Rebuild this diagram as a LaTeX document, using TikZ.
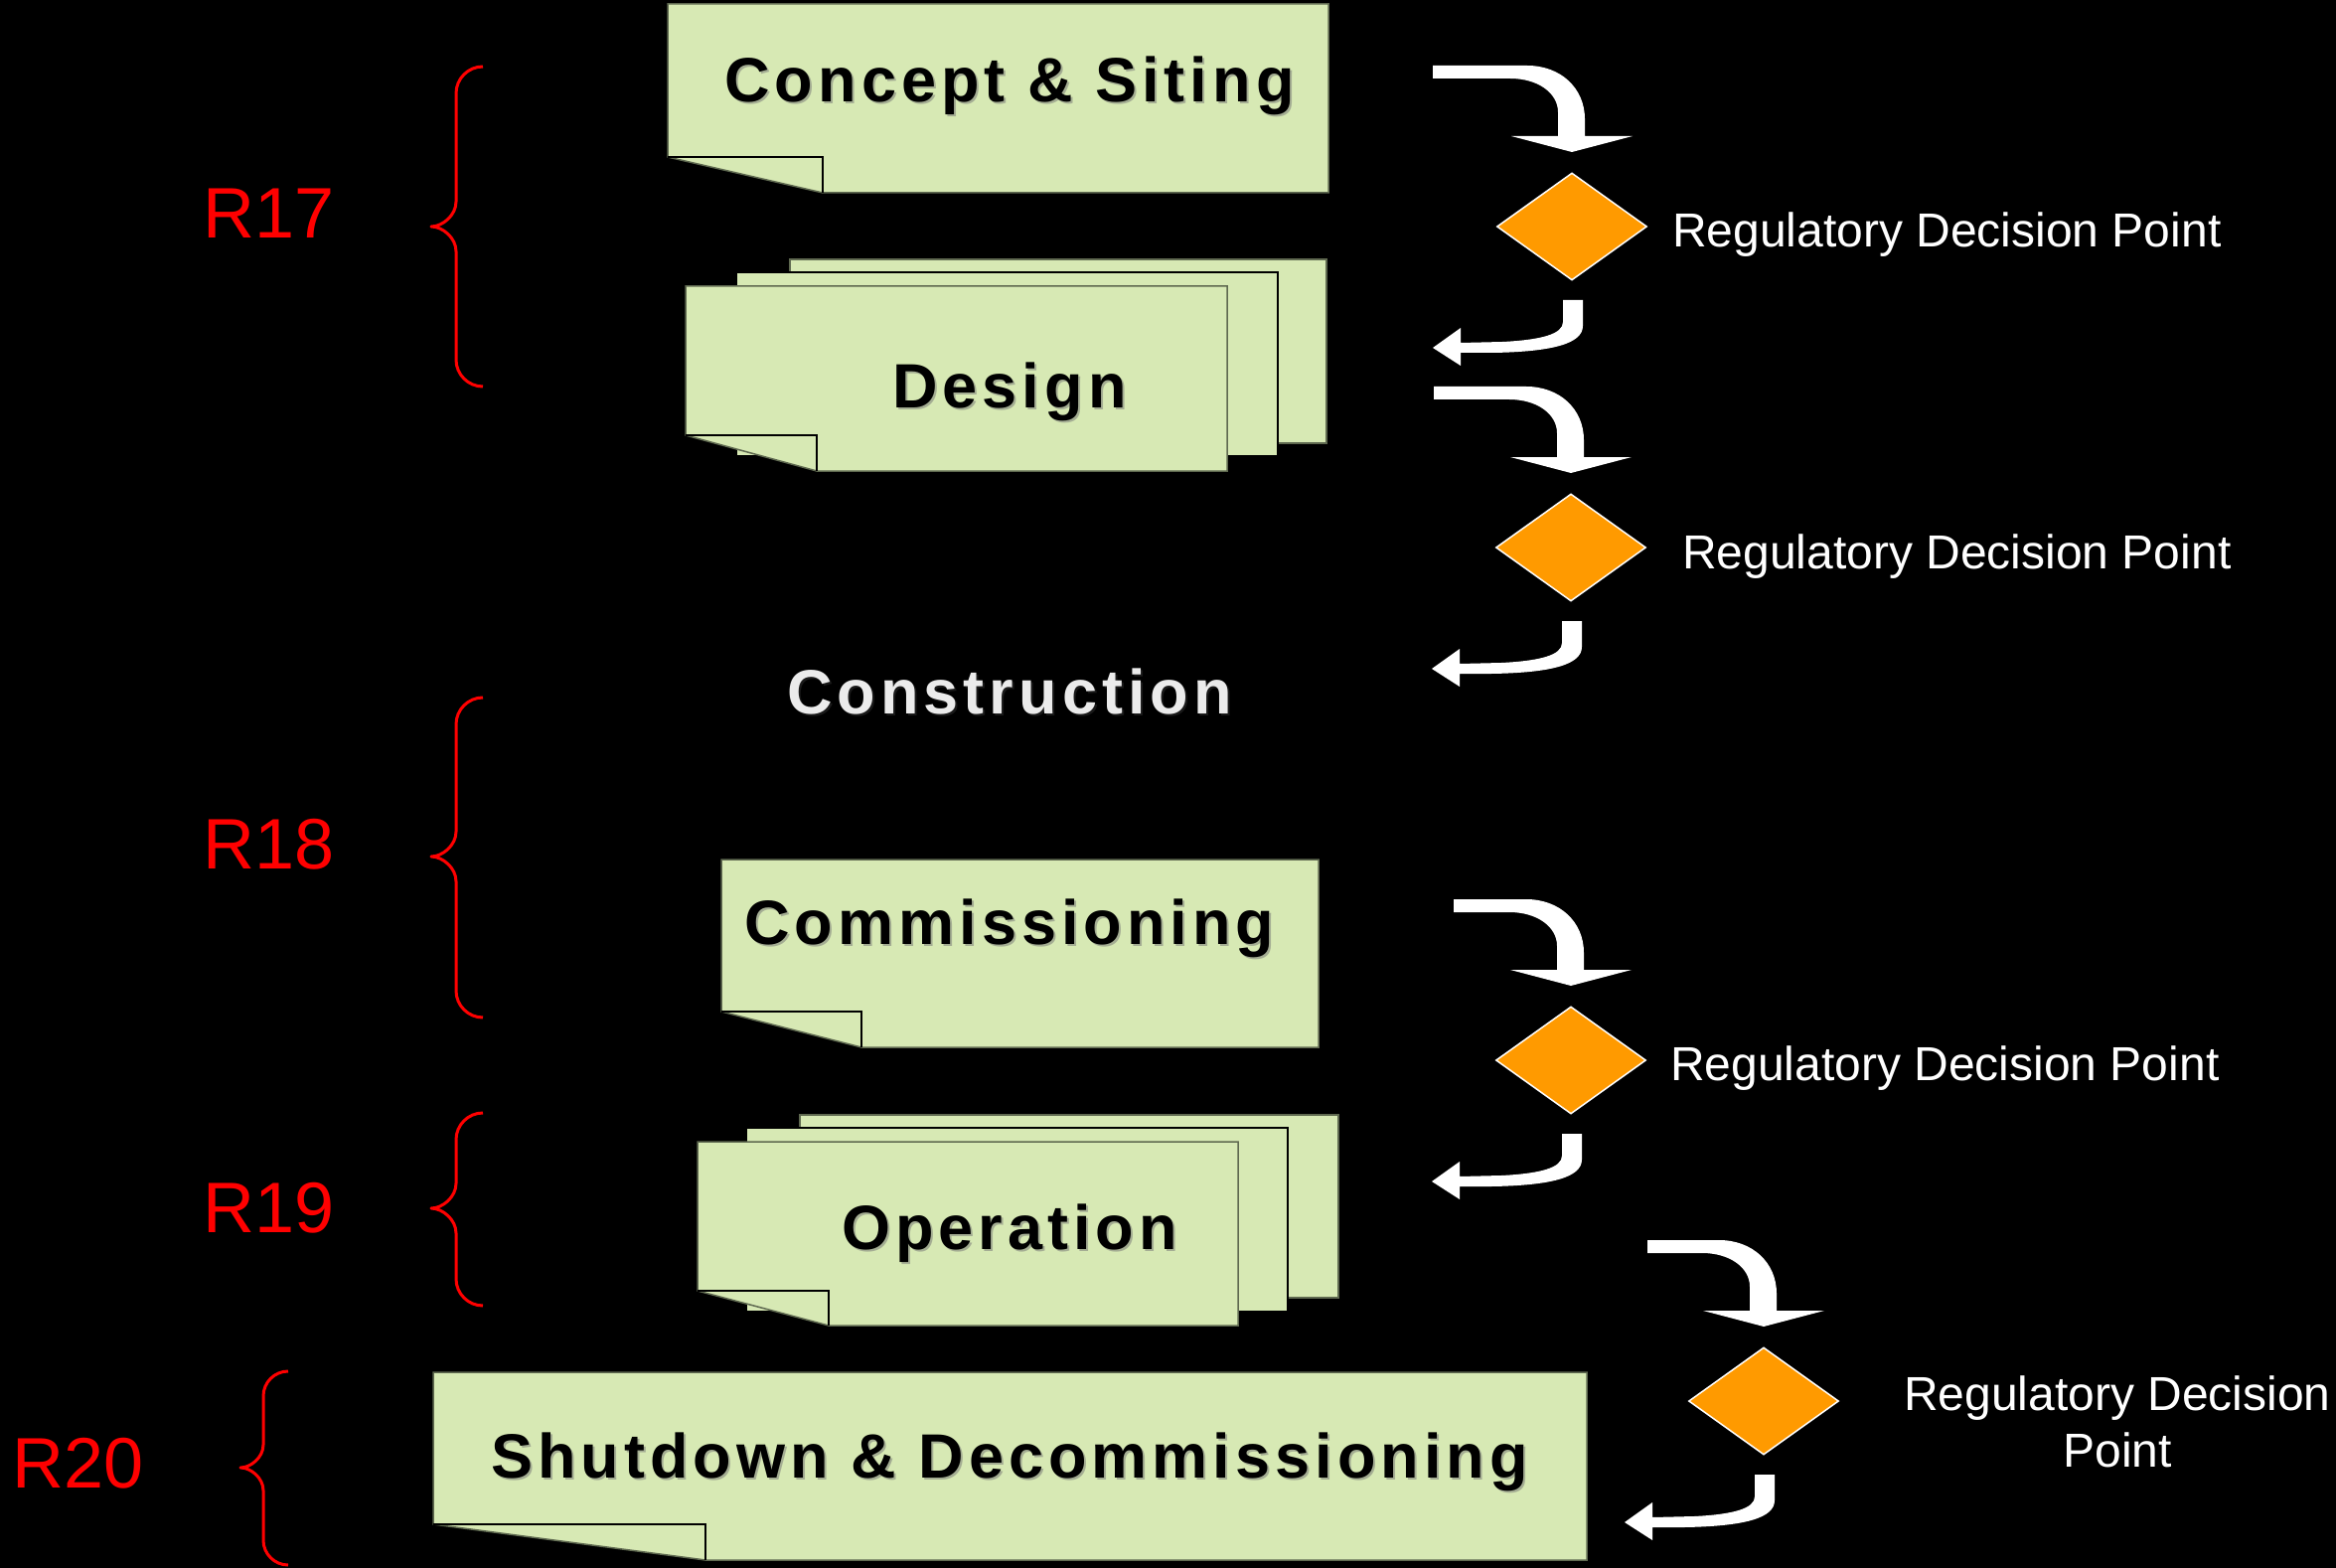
\documentclass[tikz,border=0pt]{standalone}
\usepackage{fontspec}
\setmainfont{Liberation Sans}
\newfontfamily\titlefont{Liberation Sans}[LetterSpace=8]
\usetikzlibrary{shapes.geometric}
\definecolor{boxgreen}{RGB}{215,233,180}
\definecolor{diaorange}{RGB}{255,154,0}
\definecolor{bracered}{RGB}{255,0,0}
\definecolor{edgegray}{RGB}{95,105,80}
\tikzset{
  sheet/.style={fill=boxgreen,draw=edgegray,line width=1.5pt},
  flapline/.style={draw=black,line width=2pt},
  titletext/.style={font=\titlefont\bfseries\fontsize{63}{70}\selectfont,text=black,anchor=base,inner sep=0pt},
  titleshadow/.style={font=\titlefont\bfseries\fontsize{63}{70}\selectfont,text=black!55,anchor=base,inner sep=0pt,opacity=0.5},
  rlabel/.style={font=\fontsize{72}{80}\selectfont,text=bracered,anchor=base,inner sep=0pt},
  declabel/.style={font=\fontsize{48}{57}\selectfont,text=white,inner sep=0pt},
  decision/.style={diamond,aspect=1.4,minimum width=151pt,minimum height=108pt,inner sep=0pt,fill=diaorange,draw=white,line width=1.5pt},
  bracestyle/.style={draw=bracered,line width=3pt,line join=round},
  bentarrow/.style={fill=white}
}
% note box with folded bottom-left corner: x1 y1 x2 y2 foldy flapx
\newcommand\notebox[6]{%
  \path[sheet] (#1,#2) -- (#3,#2) -- (#3,#4) -- (#6,#4) -- (#1,#5) -- cycle;
  \draw[flapline] (#1,#5) -- (#6,#5) -- (#6,#4);
}
% red brace: xend xvert xtip ytop ymid ybottom
\newcommand\redbrace[6]{%
  \draw[bracestyle] (#1,#4) .. controls ({#2+0.45*(#1-#2)},#4) and (#2,{#4+0.45*(#1-#2)}) .. (#2,{#4+(#1-#2)})
    -- (#2,{#5-(#2-#3)}) .. controls (#2,{#5-0.45*(#2-#3)}) and ({#3+0.45*(#2-#3)},#5) .. (#3,#5)
    .. controls ({#3+0.45*(#2-#3)},#5) and (#2,{#5+0.45*(#2-#3)}) .. (#2,{#5+(#2-#3)})
    -- (#2,{#6-(#1-#2)}) .. controls (#2,{#6-0.45*(#1-#2)}) and ({#2+0.45*(#1-#2)},#6) .. (#1,#6);
}
% bent arrow coming into a decision point from the left and above
\newcommand\topbend[2]{%
  \begin{scope}[shift={(#1.center)}]
    \fill[bentarrow] (#2,-162) -- (-45,-162) .. controls (-12,-162) and (13,-140) .. (13,-108)
      -- (13,-91) -- (61,-91) -- (0,-75) -- (-61,-91) -- (-14,-91) -- (-14,-115)
      .. controls (-14,-135) and (-35,-149) .. (-62,-149) -- (#2,-149) -- cycle;
  \end{scope}
}
% bent arrow leaving a decision point downward and back to the left
\newcommand\returnbend[1]{%
  \begin{scope}[shift={(#1.center)}]
    \fill[bentarrow] (-9,74) -- (11,74) -- (11,100) .. controls (11,118) and (-20,126) .. (-80,127)
      -- (-112,127) -- (-112,140) -- (-140,122) -- (-112,102) -- (-112,117) -- (-70,116)
      .. controls (-30,114) and (-9,108) .. (-9,96) -- cycle;
  \end{scope}
}
\begin{document}
\begin{tikzpicture}[x=1pt,y=-1pt]
\fill[black] (0,0) rectangle (2351,1578);
\useasboundingbox (0,0) rectangle (2351,1578);

% ---- boxes ----
\notebox{672}{4}{1337}{194}{158}{828}
\path[sheet] (795,261) rectangle (1335,446);
\path[sheet,draw=black] (741,274) rectangle (1286,459);
\notebox{690}{288}{1235}{474}{438}{822}
\notebox{726}{865}{1327}{1054}{1018}{867}
\path[sheet] (805,1122) rectangle (1347,1306);
\path[sheet,draw=black] (751,1135) rectangle (1296,1320);
\notebox{702}{1149}{1246}{1334}{1299}{834}
\notebox{436}{1381}{1597}{1570}{1534}{710}

% ---- titles ----
\foreach \t/\x/\y in {Concept \& Siting/1016/103, Design/1016/411, Commissioning/1016/950, Operation/1016/1257, Shutdown \& Decommissioning/1016/1487}{
  \node[titleshadow] at (\x+2,\y+2) {\t};
}
\node[titletext] (concept) at (1016,103) {Concept \& Siting};
\node[titletext] (design) at (1016,411) {Design};
\node[titleshadow,text=black!80] at (1018,720) {Construction};
\node[titletext,text=white!92!black] (construction) at (1016,718) {Construction};
\node[titletext] (commissioning) at (1016,950) {Commissioning};
\node[titletext] (operation) at (1016,1257) {Operation};
\node[titletext] (shutdown) at (1016,1487) {Shutdown \& Decommissioning};

% ---- braces and stage labels ----
\redbrace{486}{459}{434}{67}{228}{389}
\redbrace{486}{459}{434}{702}{862}{1024}
\redbrace{486}{459}{434}{1120}{1216}{1314}
\redbrace{290}{265}{242}{1380}{1477}{1575}
\node[rlabel] (r17) at (271,240) {R17};
\node[rlabel] (r18) at (271,874) {R18};
\node[rlabel] (r19) at (271,1240) {R19};
\node[rlabel] (r20) at (79,1497) {R20};

% ---- decision points ----
\node[decision] (d1) at (1582,228) {};
\node[decision] (d2) at (1581,551) {};
\node[decision] (d3) at (1581,1067) {};
\node[decision] (d4) at (1775,1410) {};
\node[declabel,anchor=base west] (l1) at (1683,249) {Regulatory Decision Point};
\node[declabel,anchor=base west] (l2) at (1693,572) {Regulatory Decision Point};
\node[declabel,anchor=base west] (l3) at (1681,1087) {Regulatory Decision Point};
\node[declabel,anchor=base] (l4a) at (2131,1419) {Regulatory Decision};
\node[declabel,anchor=base] (l4b) at (2131,1476) {Point};

% ---- bent arrows ----
\topbend{d1}{-140}
\returnbend{d1}
\topbend{d2}{-138}
\returnbend{d2}
\topbend{d3}{-118}
\returnbend{d3}
\topbend{d4}{-117}
\returnbend{d4}
\end{tikzpicture}
\end{document}
